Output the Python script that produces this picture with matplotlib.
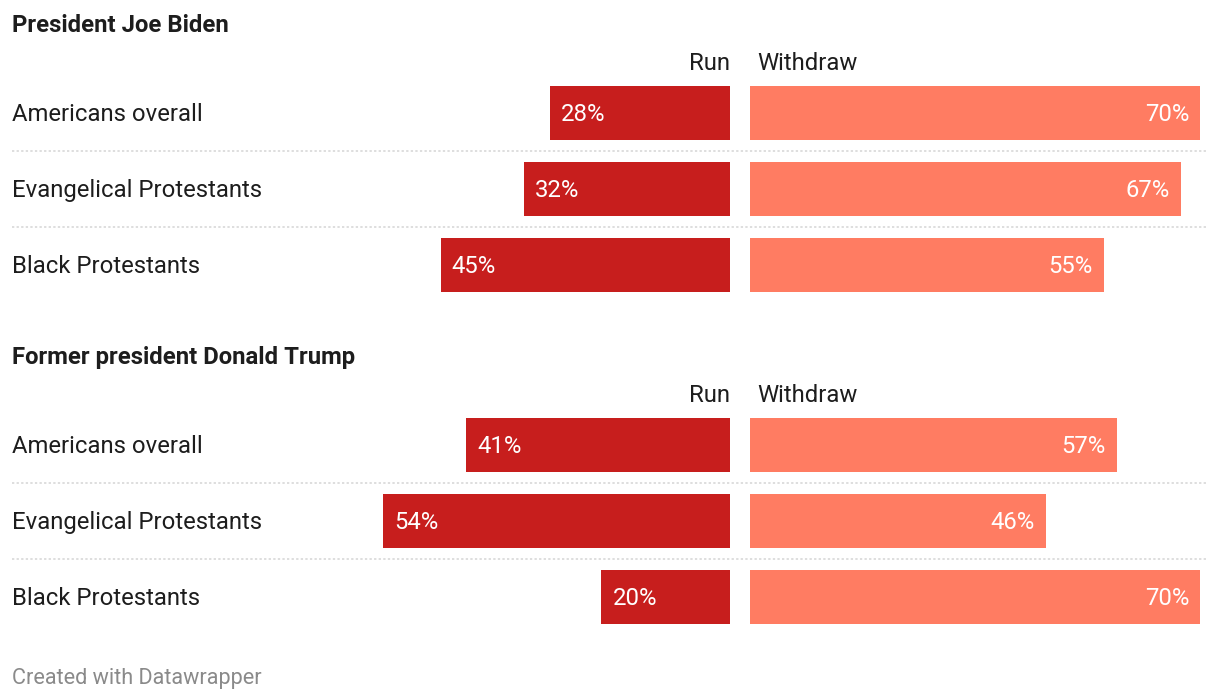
import matplotlib.pyplot as plt

panels = ["President Joe Biden", "Former president Donald Trump"]
groups = ["Americans overall", "Evangelical Protestants", "Black Protestants"]
run = [[28, 32, 45], [41, 54, 20]]
withdraw = [[70, 67, 55], [57, 46, 70]]
headers = ["Run", "Withdraw"]

RUN_COLOR = "#c71e1d"
WD_COLOR = "#ff7c62"
TEXT = "#1d1d1d"
FS = 17.2

plt.rcParams["font.family"] = ["Roboto", "DejaVu Sans"]

W, H = 1220, 700
PX_PER_PCT = 6.43
ZERO_RUN = 730
ZERO_WD = 750


def px(x):
    """ Pixel column -> data x (percent, run zero at 0). """
    return (x - ZERO_RUN) / PX_PER_PCT


fig = plt.figure(figsize=(W / 100, H / 100), dpi=100)
ax = fig.add_axes([0, 0, 1, 1])
ax.set_xlim(px(0), px(W))
ax.set_ylim(H, 0)
ax.axis("off")

gap = px(ZERO_WD)
pad = 11 / PX_PER_PCT

for p, title in enumerate(panels):
    top = 24 + p * 332
    ax.text(px(12), top - 1, title, fontsize=FS, fontweight="bold", color=TEXT,
            ha="left", va="center_baseline")
    ax.text(0, top + 37, headers[0], fontsize=FS, color=TEXT,
            ha="right", va="center_baseline")
    ax.text(px(757), top + 37, headers[1], fontsize=FS, color=TEXT,
            ha="left", va="center_baseline")

    for i, (name, r, w) in enumerate(zip(groups, run[p], withdraw[p])):
        y = top + 89 + i * 76
        ax.barh(y, -r, left=0, height=54, color=RUN_COLOR)
        ax.barh(y, w, left=gap, height=54, color=WD_COLOR)
        ax.text(px(12), y - 1, name, fontsize=FS, color=TEXT,
                ha="left", va="center_baseline")
        ax.text(-r + pad, y - 1, f"{r}%", fontsize=FS, color="white",
                ha="left", va="center_baseline")
        ax.text(gap + w - pad, y - 1, f"{w}%", fontsize=FS, color="white",
                ha="right", va="center_baseline")
        if i < len(groups) - 1:
            ax.plot([px(12), px(1208)], [y + 38, y + 38], color="#d4d4d4",
                    lw=1.1, linestyle=(0, (1.5, 1.5)))

ax.text(px(12), 676, "Created with Datawrapper", fontsize=15.6, color="#8a8a8a",
        ha="left", va="center_baseline")

fig.savefig("out.png", dpi=100)
